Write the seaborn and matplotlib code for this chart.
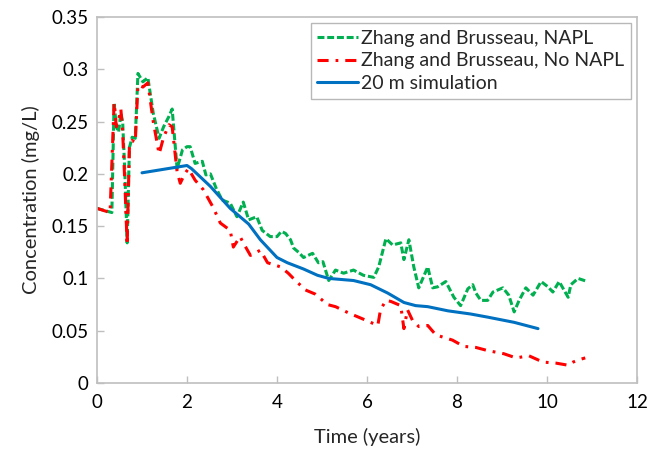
import numpy as np
import pandas as pd
import seaborn as sns
import matplotlib
matplotlib.use("Agg")
import matplotlib.pyplot as plt
from matplotlib.ticker import FuncFormatter, MultipleLocator

# Zhang and Brusseau, NAPL
napl_t = [0, 0.33, 0.38, 0.43, 0.48, 0.53, 0.57, 0.62, 0.67, 0.72, 0.78, 0.85, 0.91, 1.02, 1.13,
          1.25, 1.38, 1.48, 1.60, 1.67, 1.78, 1.90, 2.0, 2.07, 2.18, 2.34, 2.42, 2.52, 2.65, 2.78,
          2.96, 3.11, 3.25, 3.37, 3.55, 3.67, 3.85, 4.0, 4.10, 4.19, 4.3, 4.37, 4.48, 4.59, 4.79,
          4.92, 5.02, 5.15, 5.3, 5.48, 5.7, 5.92, 6.15, 6.26, 6.42, 6.57, 6.75, 6.82, 6.93, 7.04,
          7.15, 7.35, 7.46, 7.57, 7.75, 7.93, 8.08, 8.24, 8.35, 8.42, 8.53, 8.68, 8.8, 9.02, 9.15,
          9.27, 9.38, 9.53, 9.69, 9.87, 10.02, 10.13, 10.27, 10.47, 10.53, 10.69, 10.9]
napl_c = [0.167, 0.163, 0.268, 0.245, 0.240, 0.258, 0.250, 0.200, 0.134, 0.225, 0.235, 0.234, 0.296, 0.288, 0.292,
          0.258, 0.234, 0.245, 0.255, 0.262, 0.205, 0.223, 0.226, 0.226, 0.210, 0.212, 0.199, 0.200, 0.186, 0.175,
          0.172, 0.159, 0.173, 0.156, 0.159, 0.146, 0.140, 0.140, 0.145, 0.143, 0.137, 0.129, 0.125, 0.120, 0.124,
          0.115, 0.116, 0.098, 0.108, 0.105, 0.108, 0.103, 0.101, 0.111, 0.138, 0.132, 0.134, 0.118, 0.137, 0.111,
          0.091, 0.111, 0.091, 0.092, 0.097, 0.082, 0.074, 0.090, 0.094, 0.086, 0.079, 0.079, 0.087, 0.091, 0.084,
          0.068, 0.079, 0.091, 0.084, 0.097, 0.092, 0.087, 0.097, 0.082, 0.094, 0.100, 0.097]

# Zhang and Brusseau, No NAPL
nonapl_t = [0, 0.29, 0.38, 0.43, 0.48, 0.53, 0.57, 0.62, 0.67, 0.72, 0.78, 0.85, 0.91, 1.02, 1.13,
            1.25, 1.38, 1.48, 1.60, 1.67, 1.78, 1.85, 1.95, 2.03, 2.18, 2.36, 2.58, 2.74, 2.96, 3.03,
            3.18, 3.25, 3.41, 3.63, 3.79, 4.08, 4.25, 4.41, 4.63, 4.85, 5.12, 5.3, 5.59, 5.92, 6.24,
            6.3, 6.42, 6.53, 6.75, 6.82, 6.9, 7.01, 7.15, 7.35, 7.53, 7.9, 8.15, 8.42, 8.68, 9.04,
            9.31, 9.6, 9.91, 10.2, 10.47, 10.58, 10.69, 10.85]
nonapl_c = [0.167, 0.163, 0.268, 0.245, 0.252, 0.262, 0.240, 0.190, 0.132, 0.225, 0.232, 0.230, 0.285, 0.283, 0.287,
            0.250, 0.219, 0.235, 0.247, 0.245, 0.202, 0.191, 0.200, 0.205, 0.194, 0.185, 0.168, 0.153, 0.146, 0.130,
            0.140, 0.134, 0.122, 0.127, 0.115, 0.111, 0.105, 0.098, 0.089, 0.085, 0.075, 0.073, 0.067, 0.061, 0.055,
            0.070, 0.079, 0.078, 0.074, 0.052, 0.070, 0.060, 0.054, 0.055, 0.046, 0.041, 0.035, 0.034, 0.031, 0.028,
            0.024, 0.026, 0.020, 0.019, 0.017, 0.020, 0.022, 0.024]

# 20 m simulation
sim_t = [1.0, 2.0, 2.1, 2.52, 2.96, 3.37, 3.63, 4.0, 4.23, 4.59, 4.9, 5.15, 5.7, 6.08, 6.46,
         6.82, 7.08, 7.35, 7.8, 8.3, 8.68, 9.27, 9.8]
sim_c = [0.201, 0.208, 0.205, 0.188, 0.167, 0.152, 0.137, 0.120, 0.115, 0.109, 0.103, 0.100, 0.098, 0.094, 0.086,
         0.077, 0.074, 0.073, 0.069, 0.066, 0.063, 0.058, 0.052]

labels = ["Zhang and Brusseau, NAPL", "Zhang and Brusseau, No NAPL", "20 m simulation"]

sns.set_style("white")
plt.rcParams['font.family'] = ['Lato', 'DejaVu Sans']
plt.rcParams['lines.scale_dashes'] = False

fig = plt.figure(figsize=(6.6, 4.5), dpi=100)
ax = fig.add_axes([97 / 660, 67 / 450, 540 / 660, 366 / 450])

sns.lineplot(x=napl_t, y=napl_c, ax=ax, sort=False, color="#00B050", lw=2.2,
             linestyle=(0, (5, 2)), label=labels[0])
sns.lineplot(x=nonapl_t, y=nonapl_c, ax=ax, sort=False, color="#FF0000", lw=2.2,
             linestyle=(0, (8, 5, 2, 5)), label=labels[1])
sns.lineplot(x=sim_t, y=sim_c, ax=ax, sort=False, color="#0070C0", lw=2.2,
             label=labels[2])

ax.set_xlim(0, 12)
ax.set_ylim(0, 0.35)
ax.xaxis.set_major_locator(MultipleLocator(2))
ax.yaxis.set_major_locator(MultipleLocator(0.05))
ax.yaxis.set_major_formatter(FuncFormatter(lambda v, p: f"{v:g}"))

for s in ax.spines.values():
    s.set_color("#BFBFBF")
    s.set_linewidth(1.2)
ax.tick_params(direction="in", length=5, width=1, color="#BFBFBF",
               labelsize=13.5, labelcolor="#000000", pad=6)
ax.tick_params(axis="x", bottom=True, pad=8)
ax.tick_params(axis="y", left=True)

ax.set_xlabel("Time (years)", fontsize=14.5, labelpad=12)
ax.set_ylabel("Concentration (mg/L)", fontsize=14.5, labelpad=8)

leg = ax.legend(loc="upper right", fontsize=14, handlelength=2.1, handletextpad=0.15,
                labelspacing=0.3, borderpad=0.35, borderaxespad=0.3, frameon=True,
                fancybox=False, edgecolor="#A6A6A6")
leg.get_frame().set_linewidth(1.0)

fig.savefig("out.png", dpi=100)
